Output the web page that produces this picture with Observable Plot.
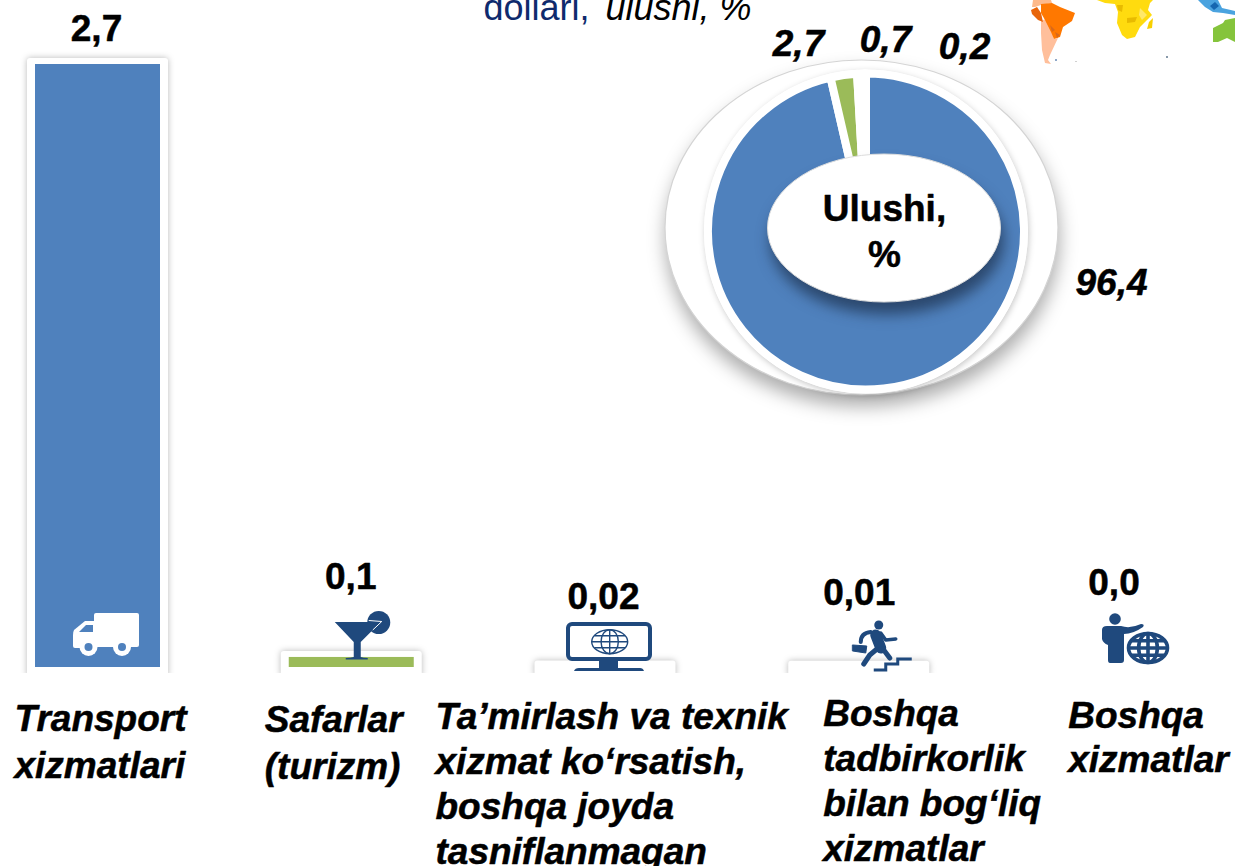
<!DOCTYPE html>
<html>
<head>
<meta charset="utf-8">
<style>html,body{margin:0;padding:0;background:#fff;overflow:hidden}svg{display:block}</style>
<script src="https://cdn.jsdelivr.net/npm/d3@7"></script>
<script src="https://cdn.jsdelivr.net/npm/@observablehq/plot@0.6"></script>
</head>
<body>
<script>
// ---- data ----
const categories = ["Transport xizmatlari", "Safarlar (turizm)", "Ta’mirlash", "Boshqa tadbirkorlik", "Boshqa xizmatlar"];
const categoryLabels = [
  "Transport\nxizmatlari",
  "Safarlar\n(turizm)",
  "Ta’mirlash va texnik\nxizmat ko‘rsatish,\nboshqa joyda\ntasniflanmagan",
  "Boshqa\ntadbirkorlik\nbilan bog‘liq\nxizmatlar",
  "Boshqa\nxizmatlar"
];
const barValues = [2.7, 0.045, 0.002, 0.001, 0];
const valueLabels = ["2,7", "0,1", "0,02", "0,01", "0,0"];
const shares = [96.4, 2.7, 0.7, 0.2];
const shareLabels = ["96,4", "2,7", "0,7", "0,2"];

// ---- layout & style (separate from data) ----
const BLUE = "#4f81bd", GREEN = "#9bbb59", NAVY = "#1f497d", FONT = "Liberation Sans";
const barColors = [BLUE, GREEN, "#fff", "#fff", "#fff"];
const shareColors = [BLUE, GREEN, "#c0504d", "#8064a2"];
const valueOffsets = [[-1.5, -35], [-1, -80], [-2, -70], [0, -74], [1, -84]];
const labelOffsets = [[-83.5, 31], [-87, 32], [-170, 30], [-36, 26], [-44.75, 29]];
const labelLeading = [1.25, 1.25, 1.21, 1.22, 1.2];
const shareLabelPos = [[798, 44], [885, 40], [964, 47]];
const bigShareLabelPos = [1111, 283];

const txt = {fontFamily: FONT, fontSize: 37, fill: "#000"};
const heavy = {stroke: "#000", strokeWidth: 0.5};
const rows = categories.map((c, i) => ({c, v: barValues[i], color: barColors[i]}));

function svgG() { return d3.create("svg:g"); }

// Donut, drawn from the shares with d3.pie / d3.arc
function donutMark() {
  const g = svgG();
  g.append("ellipse").attr("cx", 861.5).attr("cy", 227.5).attr("rx", 196.5).attr("ry", 167.5)
    .attr("fill", "#fff").attr("stroke", "#d4d4d4").attr("stroke-width", 1.2)
    .style("filter", "drop-shadow(1px 11px 9px rgba(0,0,0,.32))");
  const c = g.append("g").attr("transform", "translate(866,231.5)");
  c.append("circle").attr("r", 162).attr("fill", "#fff")
    .style("filter", "drop-shadow(1px 2px 3px rgba(0,0,0,.22))");
  const arc = d3.arc().innerRadius(0).outerRadius(158);
  const pie = d3.pie().sort(null)(shares);
  c.selectAll("path").data(pie).join("path")
    .attr("d", arc).attr("fill", (d, i) => shareColors[i])
    .attr("stroke", "#fff").attr("stroke-width", 8).attr("stroke-linejoin", "round");
  g.append("ellipse").attr("cx", 884).attr("cy", 228).attr("rx", 116.5).attr("ry", 74)
    .attr("fill", "#fff").attr("stroke", "#dcdcdc").attr("stroke-width", 1)
    .style("filter", "drop-shadow(3px 12px 7px rgba(15,25,45,.55))");
  return g.node();
}

function globe(g, cx, cy, rx, ry, sw) {
  const s = g.append("g").attr("fill", "none").attr("stroke", NAVY).attr("stroke-width", sw);
  s.append("ellipse").attr("cx", cx).attr("cy", cy).attr("rx", rx).attr("ry", ry);
  s.append("ellipse").attr("cx", cx).attr("cy", cy).attr("rx", rx * 0.48).attr("ry", ry);
  s.append("path").attr("d", `M${cx} ${cy - ry}V${cy + ry}M${cx - rx} ${cy}H${cx + rx}M${cx - rx * .85} ${cy - ry * .5}H${cx + rx * .85}M${cx - rx * .85} ${cy + ry * .5}H${cx + rx * .85}`);
}

const iconPainters = [
  g => { // truck
    g.attr("fill", "#fff");
    g.append("rect").attr("x", 21).attr("width", 45).attr("height", 34).attr("rx", 2);
    g.append("path").attr("d", "M21 8H12L1 17Q0 19 0 22V33Q0 35 2 35H21Z");
    g.append("path").attr("d", "M6 19L13 12H20V19Z").attr("fill", BLUE);
    for (const x of [15.5, 49]) {
      g.append("circle").attr("cx", x).attr("cy", 34).attr("r", 9);
      g.append("circle").attr("cx", x).attr("cy", 34).attr("r", 4).attr("fill", BLUE);
    }
  },
  g => { // cocktail
    g.append("circle").attr("cx", 44).attr("cy", 10.5).attr("r", 11.5).attr("fill", NAVY);
    g.append("path").attr("d", "M0 10H46L26 30V45Q28 46 33 46V47.5H11V46Q16 46 19 45V30Z").attr("fill", NAVY);
    g.append("path").attr("d", "M34 8.5L47 9.5L38 18").attr("fill", "none").attr("stroke", "#fff").attr("stroke-width", 1);
  },
  g => { // monitor
    g.append("rect").attr("x", 2).attr("y", 2).attr("width", 82).attr("height", 35).attr("rx", 4)
      .attr("fill", "#fff").attr("stroke", NAVY).attr("stroke-width", 4);
    g.append("rect").attr("x", 33).attr("y", 38).attr("width", 19).attr("height", 9).attr("fill", NAVY);
    g.append("path").attr("d", "M8 49Q9 46 13 46H74Q77 46 78 49Z").attr("fill", NAVY);
    globe(g, 43.7, 19.7, 18, 12, 1.4);
  },
  g => { // runner on stairs
    g.attr("fill", "none").attr("stroke", NAVY).attr("stroke-linecap", "round").attr("stroke-linejoin", "round");
    g.append("circle").attr("cx", 27).attr("cy", 5).attr("r", 4.5).attr("fill", NAVY).attr("stroke", "none");
    g.append("path").attr("d", "M24 15L29 28").attr("stroke-width", 11);
    g.append("path").attr("d", "M19 12Q9 13 9 22").attr("stroke-width", 4);
    g.append("path").attr("d", "M29 13L34 20L44 19").attr("stroke-width", 3.5);
    g.append("path").attr("d", "M24 30L18 35L12 44").attr("stroke-width", 5);
    g.append("path").attr("d", "M29 29L32 30L38 38").attr("stroke-width", 5);
    g.append("path").attr("d", "M1 25L15 26L14 33L1 31Z").attr("fill", NAVY).attr("stroke-width", 1);
    g.append("path").attr("d", "M22 50H34V44H46V39H60").attr("stroke-width", 3).attr("stroke-linecap", "butt").attr("stroke-linejoin", "miter");
  },
  g => { // person with globe
    g.append("circle").attr("cx", 13).attr("cy", 6).attr("r", 5.8).attr("fill", NAVY);
    g.append("path").attr("fill", NAVY).attr("d", "M0 17Q0 13 5 13H19Q28 16 39 11Q43 11 41 14Q31 21 22 21V47Q22 50 19 50H8Q6 50 6 47V32Q1 30 0 26Z");
    globe(g, 46, 35, 19.5, 14.5, 3.6);
  }
];
const iconCenterOffsets = [[-24.5, -54], [-16.5, -55], [-39, -45], [-7, -47], [-10.5, -54]];

function iconsMark(index, scales) {
  const g = svgG();
  const bw = scales.scales.x.bandwidth;
  iconPainters.forEach((paint, i) => {
    const x = scales.x(categories[i]) + bw / 2 + iconCenterOffsets[i][0];
    const y = scales.y(0) + iconCenterOffsets[i][1];
    paint(g.append("g").attr("transform", `translate(${x},${y})`));
  });
  return g.node();
}

// Corner fragment of the decorative world map
const mapShapes = [
  ["#fdb98a", "1033,0 1051,0 1052,3 1041,5 1035,7 1032,7"],
  ["#ffbf9b", "1041,21 1048,18 1054,39 1058,38 1050,55 1048,60 1051,64 1045,63 1042,50 1041,33"],
  ["#ff7800", "1041,4 1052,3 1060,7 1075,13 1072,21 1063,27 1060,37 1054,39 1051,32 1045,20 1041,13"],
  ["#e8650a", "1031,10 1037,7 1041,13 1043,22 1038,20 1032,14"],
  ["#d9691a", "1050,25 1055,30 1052,32"],
  ["#d9691a", "1055,32 1060,35 1057,38"],
  ["#ffdb0f", "1097,0 1153,0 1150,3 1148,10 1152,15 1147,20 1140,27 1135,37 1127,39 1122,35 1117,23 1118,12 1115,4 1105,3"],
  ["#e8bb00", "1127,18 1137,17 1135,22 1127,23"],
  ["#e8bb00", "1117,5 1123,5 1122,12 1118,10"],
  ["#ffe86a", "1140,8 1147,15 1142,20 1139,15"],
  ["#f8d000", "1149,22 1153,18 1152,28 1147,29"],
  ["#4aa3df", "1198,0 1205,7 1213,12 1223,13 1235,15 1235,11 1222,8 1218,0"],
  ["#1566b0", "1210,6 1215,2 1219,6 1214,10"],
  ["#85c43c", "1213,28 1223,23 1225,20 1235,18 1235,42 1227,38 1218,42 1213,42"],
  ["#8fa8c8", "1055,59 1057,59 1057,61 1055,61"],
  ["#d0d0d0", "1075,61 1077,61 1077,62 1075,62"],
  ["#8899aa", "1166,56 1168,56 1168,58 1166,58"]
];
function mapMark() {
  const g = svgG();
  g.selectAll("polygon").data(mapShapes).join("polygon")
    .attr("points", d => d[1]).attr("fill", d => d[0]);
  return g.node();
}

const absText = (s, dx, dy, opts) => Plot.text([s], {
  text: d => d, frameAnchor: "top-left", dx, dy,
  textAnchor: "middle", lineAnchor: "middle", ...txt, ...opts
});

const chart = Plot.plot({
  width: 1235, height: 866, margin: 0,
  x: {type: "band", domain: categories, range: [35, 1175], paddingInner: 0.5074, paddingOuter: 0, round: false, axis: null},
  y: {domain: [0, 2.7], range: [667, 64], axis: null},
  marks: [
    mapMark,
    absText("dollari,", 483, 8, {textAnchor: "start", fontSize: 36, fontWeight: 400, fill: "#0e2a6d"}),
    absText("ulushi, %", 605, 8, {textAnchor: "start", fontSize: 36, fontStyle: "italic", fontWeight: 400}),
    Plot.barY(rows.slice(0, 4), {
      x: "c", y1: () => 0, y2: "v", fill: "#fff", rx: 3,
      insetLeft: -8, insetRight: -8, insetTop: -6, insetBottom: -10,
      imageFilter: "drop-shadow(0 0 3px rgba(0,0,0,.28))"
    }),
    Plot.rectY([0], {y1: -0.0269, y2: -1, fill: "#fff"}),
    Plot.barY(rows, {x: "c", y1: () => 0, y2: "v", fill: "color"}),
    iconsMark,
    ...categories.map((c, i) => Plot.text([rows[i]], {
      x: "c", y: "v", text: () => valueLabels[i],
      dx: valueOffsets[i][0], dy: valueOffsets[i][1],
      ...txt, ...heavy, fontWeight: 700
    })),
    ...categories.map((c, i) => Plot.text([rows[i]], {
      x: "c", y: () => 0, text: () => categoryLabels[i],
      dx: labelOffsets[i][0], dy: labelOffsets[i][1],
      textAnchor: "start", lineAnchor: "top", lineHeight: labelLeading[i],
      ...txt, ...heavy, fontWeight: 700, fontStyle: "italic"
    })),
    donutMark,
    absText("Ulushi,\n%", 884, 228.5, {fontWeight: 700, lineHeight: 1.24, ...heavy}),
    ...shareLabels.slice(1).map((s, i) => absText(s, shareLabelPos[i][0], shareLabelPos[i][1], {fontWeight: 700, fontStyle: "italic", ...heavy})),
    absText(shareLabels[0], bigShareLabelPos[0], bigShareLabelPos[1], {fontWeight: 700, fontStyle: "italic", ...heavy})
  ]
});
chart.style.background = "#fff";
document.body.appendChild(chart);
</script>
</body>
</html>
